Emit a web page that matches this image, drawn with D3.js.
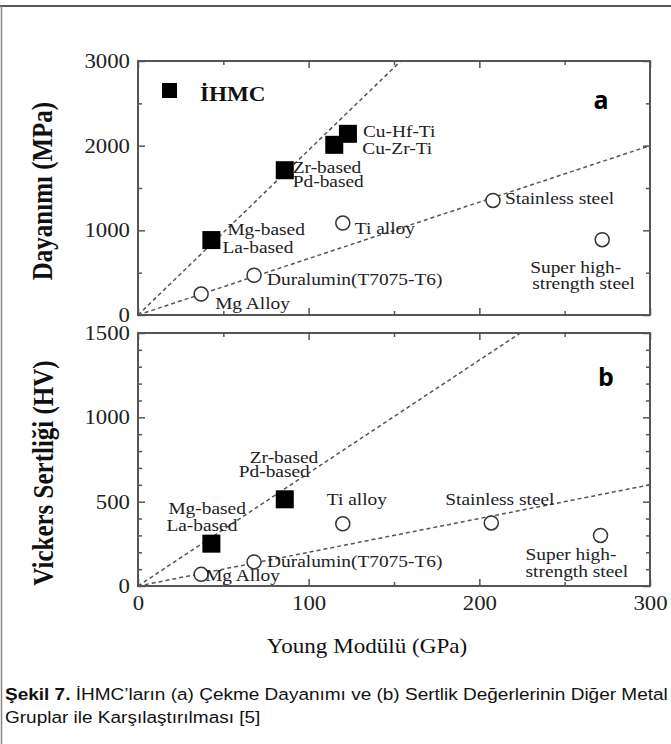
<!DOCTYPE html>
<html>
<head>
<meta charset="utf-8">
<script src="https://cdn.jsdelivr.net/npm/d3@7"></script>
<style>
  body { margin: 0; background: #fff; }
  svg { display: block; }
  .tick line { stroke: #555; stroke-width: 1.5; }
  .tick text { font-family: "Liberation Serif", "Times New Roman", serif; font-size: 20px; fill: #222; }
  .lbl { font-family: "Liberation Serif", "Times New Roman", serif; font-size: 17px; fill: #222; }
</style>
</head>
<body>
<div id="chart"></div>
<script>
// ---- data ----
// metallic glasses (filled squares)
var bmgModulusA = [43, 86, 115, 123];
var bmgStrength = [885, 1710, 2010, 2140];
var bmgModulusB = [43, 86];
var bmgHardness = [251, 514];

// crystalline alloys (open circles)
var alloyModulusA = [37, 68, 120, 208, 272];
var alloyStrength = [247, 470, 1086, 1353, 890];
var alloyModulusB = [37, 68, 120, 207, 271];
var alloyHardness = [69, 143, 369, 374, 300];

// dashed guide lines [modulus, value]
var guideA = [[[0, 0], [154, 3000]], [[0, 0], [300, 2000]]];
var guideB = [[[0, 0], [224, 1500]], [[0, 0], [300, 600]]];

// tick values
var xMajor = [0, 100, 200, 300];
var xMinor = [50, 150, 250];
var yMajorA = [0, 1000, 2000, 3000];
var yMinorA = [500, 1500, 2500];
var yMajorB = [0, 500, 1000, 1500];
var yMinorB = [100, 200, 300, 400, 600, 700, 800, 900, 1100, 1200, 1300, 1400];

// ---- label layout (offsets from the marker centre, px) ----
var bmgLabelsA = [
  [["Mg-based", 16, -5], ["La-based", 11, 13]],
  [["Zr-based", 8, 3], ["Pd-based", 8, 17]],
  [["Cu-Zr-Ti", 28, 9]],
  [["Cu-Hf-Ti", 15, 3]]
];
var alloyLabelsA = [
  [["Mg Alloy", 14, 15]],
  [["Duralumin(T7075-T6)", 13, 10]],
  [["Ti alloy", 12, 11]],
  [["Stainless steel", 12, 4]],
  [["Super high-", -72, 33], ["strength steel", -70, 49]]
];
var bmgLabelsB = [
  [["Mg-based", -43, -30], ["La-based", -45, -13]],
  [["Zr-based", -35, -36], ["Pd-based", -46, -22]]
];
var alloyLabelsB = [
  [["Mg Alloy", 4, 7]],
  [["Duralumin(T7075-T6)", 13, 5]],
  [["Ti alloy", -16, -19]],
  [["Stainless steel", -46, -18]],
  [["Super high-", -75, 25], ["strength steel", -75, 42]]
];

var svgWidth = 671;
var svgHeight = 744;
var plotLeft = 138, plotRight = 650;
var panelA = {top: 61, bottom: 315};
var panelB = {top: 333, bottom: 586};
var sx = 1.14; // the figure's serif text is a bit wide

var svg = d3.select("#chart")
  .append("svg")
  .attr("width", svgWidth)
  .attr("height", svgHeight);

// outer frame (top and left edges only)
svg.append("line").attr("x1", 0).attr("x2", svgWidth).attr("y1", 6).attr("y2", 6)
  .attr("stroke", "#222").attr("stroke-width", 1.5);
svg.append("line").attr("x1", 1.5).attr("x2", 1.5).attr("y1", 6).attr("y2", svgHeight)
  .attr("stroke", "#888").attr("stroke-width", 1.5);

var x = d3.scaleLinear().domain([0, 300]).range([plotLeft, plotRight]);
var yA = d3.scaleLinear().domain([0, 3000]).range([panelA.bottom, panelA.top]);
var yB = d3.scaleLinear().domain([0, 1500]).range([panelB.bottom, panelB.top]);

function stretchText(sel, k) {
  sel.each(function() {
    var t = d3.select(this);
    var tx = +t.attr("x") || 0, ty = +t.attr("y") || 0;
    t.attr("x", 0).attr("y", 0)
      .attr("transform", `translate(${tx},${ty}) scale(${k},1)`);
  });
}

function tickGroup(axis, translate) {
  var g = svg.append("g").attr("transform", translate).call(axis);
  g.select(".domain").remove();
  return g;
}

function drawPanel(y, p, yMajor, yMinor, labelX) {
  // inward ticks on all four sides
  tickGroup(d3.axisLeft(y).tickValues(yMinor).tickSize(-4).tickFormat(""), `translate(${plotLeft},0)`);
  tickGroup(d3.axisRight(y).tickValues(yMinor).tickSize(-4).tickFormat(""), `translate(${plotRight},0)`);
  tickGroup(d3.axisRight(y).tickValues(yMajor).tickSize(-7).tickFormat(""), `translate(${plotRight},0)`);
  tickGroup(d3.axisTop(x).tickValues(xMinor).tickSize(-4).tickFormat(""), `translate(0,${p.top})`);
  tickGroup(d3.axisTop(x).tickValues(xMajor).tickSize(-7).tickFormat(""), `translate(0,${p.top})`);
  tickGroup(d3.axisBottom(x).tickValues(xMinor).tickSize(-4).tickFormat(""), `translate(0,${p.bottom})`);
  var bx = tickGroup(d3.axisBottom(x).tickValues(xMajor).tickSize(-7).tickPadding(10)
    .tickFormat(labelX ? d3.format("d") : ""), `translate(0,${p.bottom})`);
  stretchText(bx.selectAll("text"), sx);

  var ly = tickGroup(d3.axisLeft(y).tickValues(yMajor).tickSize(-7).tickPadding(8)
    .tickFormat(d3.format("d")), `translate(${plotLeft},0)`);
  stretchText(ly.selectAll("text"), sx);

  svg.append("rect")
    .attr("x", plotLeft).attr("y", p.top)
    .attr("width", plotRight - plotLeft).attr("height", p.bottom - p.top)
    .attr("fill", "none").attr("stroke", "#555").attr("stroke-width", 2);
}

function drawGuides(y, guides) {
  var line = d3.line().x(d => x(d[0])).y(d => y(d[1]));
  svg.append("g").selectAll("path")
    .data(guides)
    .enter()
    .append("path")
    .attr("d", line)
    .attr("fill", "none")
    .attr("stroke", "#555")
    .attr("stroke-width", 1.5)
    .attr("stroke-dasharray", "4,3");
}

function addLabels(px, py, items) {
  items.forEach(function(it) {
    var t = svg.append("text").attr("class", "lbl")
      .attr("x", px + it[1]).attr("y", py + it[2]).text(it[0]);
    stretchText(t, sx);
  });
}

function drawPoints(y, sqE, sqV, sqLabels, ciE, ciV, ciLabels) {
  var sq = 18;
  sqE.forEach(function(e, i) {
    svg.append("rect")
      .attr("x", x(e) - sq / 2).attr("y", y(sqV[i]) - sq / 2)
      .attr("width", sq).attr("height", sq)
      .attr("fill", "#000");
    addLabels(x(e), y(sqV[i]), sqLabels[i]);
  });
  ciE.forEach(function(e, i) {
    svg.append("circle")
      .attr("cx", x(e)).attr("cy", y(ciV[i])).attr("r", 7)
      .attr("fill", "#fff").attr("stroke", "#333").attr("stroke-width", 1.5);
    addLabels(x(e), y(ciV[i]), ciLabels[i]);
  });
}

// ---- panel a ----
drawPanel(yA, panelA, yMajorA, yMinorA, false);
drawGuides(yA, guideA);
drawPoints(yA, bmgModulusA, bmgStrength, bmgLabelsA, alloyModulusA, alloyStrength, alloyLabelsA);

// ---- panel b ----
drawPanel(yB, panelB, yMajorB, yMinorB, true);
drawGuides(yB, guideB);
drawPoints(yB, bmgModulusB, bmgHardness, bmgLabelsB, alloyModulusB, alloyHardness, alloyLabelsB);

// legend
svg.append("rect").attr("x", 162).attr("y", 83).attr("width", 15).attr("height", 15).attr("fill", "#000");
var leg = svg.append("text").attr("x", 200).attr("y", 101)
  .style("font-family", "'Liberation Serif', serif").style("font-size", "21px")
  .style("font-weight", "bold").attr("fill", "#111").text("İHMC");
stretchText(leg, 1.1);

// panel letters
svg.selectAll(".panelTag")
  .data([["a", 601, 109], ["b", 606, 386]])
  .enter()
  .append("text")
  .attr("class", "panelTag")
  .attr("x", d => d[1]).attr("y", d => d[2])
  .attr("text-anchor", "middle")
  .style("font-family", "'Open Sans', sans-serif").style("font-size", "25px")
  .style("font-weight", "bold").attr("fill", "#000")
  .text(d => d[0]);

// axis titles
svg.append("text")
  .attr("transform", `translate(52,191) scale(${sx},1) rotate(-90)`)
  .attr("text-anchor", "middle")
  .style("font-family", "'Liberation Serif', serif").style("font-size", "25px")
  .style("font-weight", "bold").attr("fill", "#111")
  .text("Dayanımı (MPa)");

svg.append("text")
  .attr("transform", `translate(53,473) scale(${sx},1) rotate(-90)`)
  .attr("text-anchor", "middle")
  .style("font-family", "'Liberation Serif', serif").style("font-size", "25px")
  .style("font-weight", "bold").attr("fill", "#111")
  .text("Vickers Sertliği (HV)");

svg.append("text")
  .attr("transform", "translate(367,653) scale(1.1,1)")
  .attr("text-anchor", "middle")
  .style("font-family", "'Liberation Serif', serif").style("font-size", "21px")
  .attr("fill", "#111")
  .text("Young Modülü (GPa)");

// caption
var cap = svg.append("g")
  .style("font-family", "'Liberation Sans', Arial, sans-serif")
  .style("font-size", "17px").attr("fill", "#111");
var cap1 = cap.append("text").attr("transform", "translate(5,700) scale(1.118,1)");
cap1.append("tspan").style("font-weight", "bold").text("Şekil 7.");
cap1.append("tspan").text(" İHMC’ların (a) Çekme Dayanımı ve (b) Sertlik Değerlerinin Diğer Metal");
cap.append("text").attr("transform", "translate(5,723) scale(1.118,1)")
  .text("Gruplar ile Karşılaştırılması [5]");
</script>
</body>
</html>
